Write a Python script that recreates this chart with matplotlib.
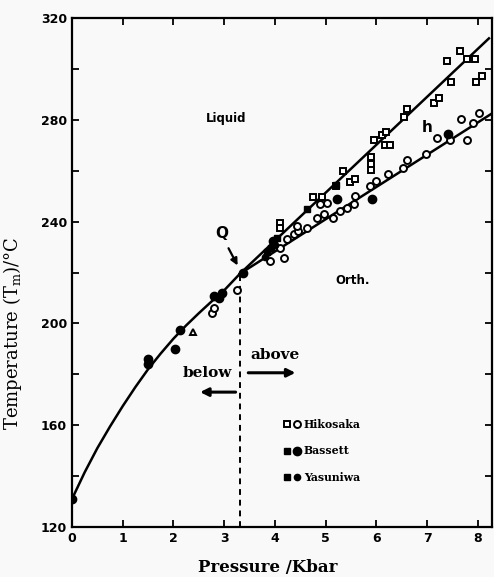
import matplotlib
matplotlib.use("Agg")
import matplotlib.pyplot as plt
from matplotlib.legend_handler import HandlerTuple

# ---- melting curve below Q ----
curve_p = [0.0, 0.25, 0.5, 0.75, 1.0, 1.25, 1.5, 1.75, 2.0, 2.25, 2.5, 2.75, 3.0, 3.31]
curve_t = [131.0, 141.5, 151.0, 159.5, 167.5, 175.0, 182.0, 188.2, 194.0, 199.2, 204.0, 208.6, 213.0, 219.5]

# ---- two branches above Q ----
upper_p = [3.31, 8.22]
upper_t = [219.5, 312.0]
lower_p = [3.31, 8.28]
lower_t = [219.5, 282.5]

# ---- Hikosaka (open squares / open circles) ----
hik_sq_p = [4.10, 4.10, 4.76, 4.93, 5.21, 5.34, 5.48, 5.58, 5.89, 5.89, 5.89, 5.96, 6.11,
            6.19, 6.17, 6.27, 6.55, 6.60, 7.13, 7.23, 7.39, 7.47, 7.64, 7.78, 7.95, 7.97, 8.08]
hik_sq_t = [239.6, 237.6, 249.5, 249.5, 254.1, 260.0, 255.4, 256.8, 265.3, 262.7, 260.3, 272.0, 273.9,
            275.2, 270.2, 270.2, 281.2, 284.1, 286.5, 288.7, 303.0, 295.0, 307.0, 303.9, 303.9, 295.0, 297.3]
hik_ci_p = [2.76, 2.79, 3.25, 3.90, 4.17, 4.10, 4.23, 4.37, 4.46, 4.63, 4.43, 4.83, 4.96, 5.15,
            4.89, 5.02, 5.29, 5.42, 5.55, 5.58, 5.88, 6.00, 6.22, 6.52, 6.61, 6.98, 7.20, 7.46,
            7.67, 7.78, 7.90, 8.03]
hik_ci_t = [204.0, 206.2, 213.2, 224.4, 225.7, 229.7, 233.0, 235.0, 236.3, 237.6, 238.3, 241.6, 242.9, 241.6,
            246.9, 247.5, 244.2, 245.5, 246.9, 250.2, 254.1, 255.8, 258.7, 261.1, 264.3, 266.7, 273.0, 272.2,
            280.5, 272.2, 278.8, 282.5]

# ---- Bassett (filled) ----
bas_sq_p = [3.92, 4.63, 5.20]
bas_sq_t = [229.5, 244.9, 254.5]
bas_ci_p = [0.0, 1.50, 1.50, 2.03, 2.13, 2.79, 2.89, 2.95, 3.38, 3.97, 5.22, 5.91, 7.41]
bas_ci_t = [131.0, 186.1, 184.2, 190.1, 197.4, 210.6, 209.9, 211.9, 219.8, 232.4, 248.8, 248.8, 274.6]

# ---- Yasuniwa ----
yas_sq_p = [3.85, 4.05]
yas_sq_t = [228.0, 233.5]
yas_ci_p = [3.80, 4.00]
yas_ci_t = [226.0, 231.0]

# ---- other ----
tri_p = [2.39]
tri_t = [196.7]

xticks = [0, 1, 2, 3, 4, 5, 6, 7, 8]
yticks = [120, 160, 200, 240, 280, 320]

bg = "#f9f9f9"
fig = plt.figure(figsize=(4.94, 5.77), dpi=100, facecolor=bg)
ax = fig.add_axes([72/494, 50/577, 420/494, 509/577], facecolor=bg)

lw = 1.8
ax.plot(curve_p, curve_t, color="black", lw=lw, zorder=2)
ax.plot(upper_p, upper_t, color="black", lw=lw, zorder=2)
ax.plot(lower_p, lower_t, color="black", lw=lw, zorder=2)
ax.plot([curve_p[-1], curve_p[-1]], [120, curve_t[-1]], color="black", lw=1.4, ls=(0, (3, 2.5)), zorder=1)

ms = 5.0
mew = 1.4
h_sq, = ax.plot(hik_sq_p, hik_sq_t, ls="none", marker="s", ms=ms, mfc="white", mec="black", mew=mew, zorder=3)
h_ci, = ax.plot(hik_ci_p, hik_ci_t, ls="none", marker="o", ms=ms, mfc="white", mec="black", mew=mew, zorder=3)
b_sq, = ax.plot(bas_sq_p, bas_sq_t, ls="none", marker="s", ms=ms, mfc="black", mec="black", zorder=4)
b_ci, = ax.plot(bas_ci_p, bas_ci_t, ls="none", marker="o", ms=ms + 1, mfc="black", mec="black", zorder=4)
y_sq, = ax.plot(yas_sq_p, yas_sq_t, ls="none", marker="s", ms=ms, mfc="black", mec="black", zorder=4)
y_ci, = ax.plot(yas_ci_p, yas_ci_t, ls="none", marker="o", ms=ms - 0.5, mfc="black", mec="black", zorder=4)
ax.plot(tri_p, tri_t, ls="none", marker="^", ms=ms, mfc="white", mec="black", mew=mew, zorder=3)

ax.set_xlim(0, 8.28)
ax.set_ylim(120, 320)
ax.set_xticks(xticks)
ax.set_yticks(yticks)
ax.set_yticks([140, 180, 220, 260, 300], minor=True)
ax.tick_params(which="both", direction="in", top=True, right=True, length=5, width=1.3)
for lab in ax.get_xticklabels() + ax.get_yticklabels():
    lab.set_fontfamily("DejaVu Sans")
    lab.set_fontweight("bold")
    lab.set_fontsize(9)
for s in ax.spines.values():
    s.set_linewidth(1.6)

ax.set_xlabel("Pressure /Kbar", family="DejaVu Serif", weight="bold", fontsize=12)
ax.xaxis.set_label_coords(0.465, -0.062)
ax.set_ylabel("Temperature (T$_\\mathregular{m}$)/\u00b0C", family="DejaVu Serif", fontsize=13)
ax.yaxis.set_label_coords(-0.115, 0.38)

ax.text(3.04, 280.4, "Liquid", family="DejaVu Sans", weight="bold", fontsize=8.5, ha="center", va="center")
ax.text(5.54, 217, "Orth.", family="DejaVu Sans", weight="bold", fontsize=8.5, ha="center", va="center")
ax.text(7.0, 277, "h", family="DejaVu Sans", weight="bold", fontsize=11, ha="center", va="center")
ax.text(2.96, 235.5, "Q", family="DejaVu Sans", weight="bold", fontsize=11, ha="center", va="center")
ax.annotate("", xy=(3.29, 221.8), xytext=(3.06, 230.5),
            arrowprops=dict(arrowstyle="-|>", color="black", lw=1.6, mutation_scale=10))
ax.text(2.66, 180.6, "below", family="DejaVu Serif", weight="bold", fontsize=11, ha="center", va="center")
ax.text(4.0, 187.5, "above", family="DejaVu Serif", weight="bold", fontsize=11, ha="center", va="center")
ax.annotate("", xy=(2.47, 173.0), xytext=(3.28, 173.0),
            arrowprops=dict(arrowstyle="-|>", color="black", lw=2.2, mutation_scale=12))
ax.annotate("", xy=(4.46, 180.6), xytext=(3.42, 180.6),
            arrowprops=dict(arrowstyle="-|>", color="black", lw=2.2, mutation_scale=12))

leg = ax.legend([(h_sq, h_ci), (b_sq, b_ci), (y_sq, y_ci)], ["Hikosaka", "Bassett", "Yasuniwa"],
                handler_map={tuple: HandlerTuple(ndivide=None, pad=0.2)},
                loc="upper left", bbox_to_anchor=(0.48, 0.232), frameon=False,
                handlelength=1.6, handletextpad=0.3, labelspacing=1.45,
                prop=dict(family="DejaVu Serif", weight="bold", size=7.8))

fig.savefig("out.png", dpi=100, facecolor=bg)
